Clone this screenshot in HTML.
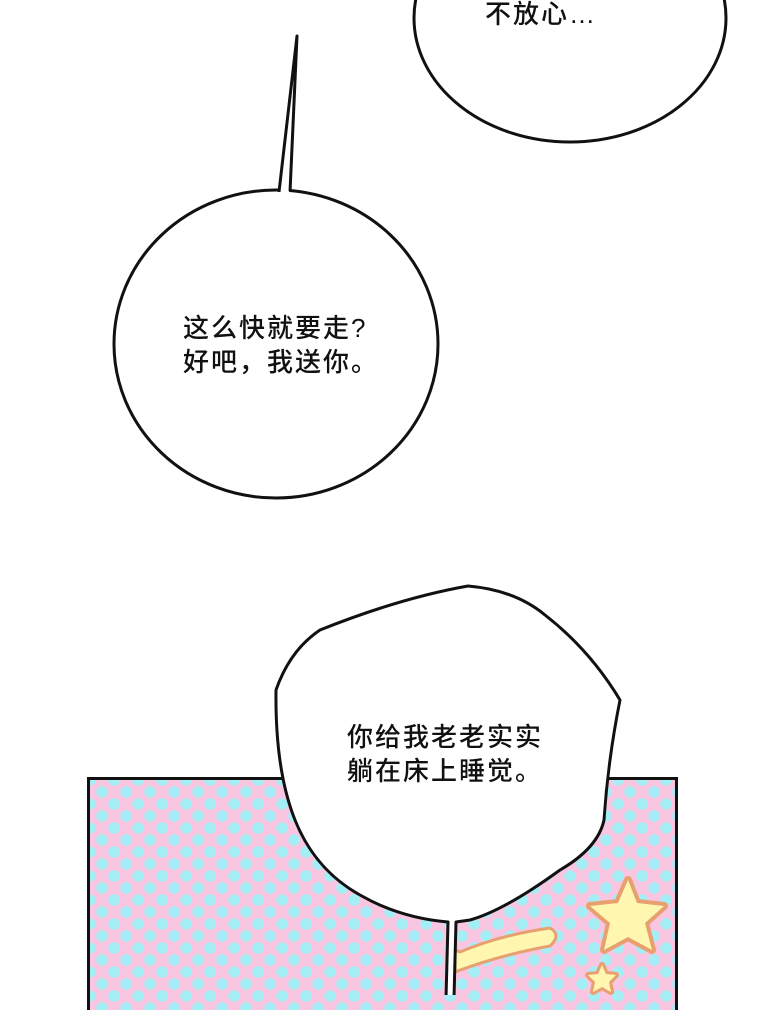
<!DOCTYPE html>
<html><head><meta charset="utf-8"><style>
body{margin:0;width:760px;height:995px;background:#fff;overflow:hidden;position:relative;font-family:"Liberation Sans","Noto Sans CJK SC",sans-serif;}
.panel{position:absolute;left:87px;top:777px;width:585px;height:230px;border:3px solid #111;border-bottom:none;
background-color:#f9c6e2;
background-image:radial-gradient(circle,#a4eef6 5.5px,transparent 6px),radial-gradient(circle,#a4eef6 5.5px,transparent 6px);
background-size:24px 24px;background-position:0 0,12px 12px;}
svg{position:absolute;left:0;top:0}
.t{position:absolute;font-size:26px;color:#111;line-height:34px;letter-spacing:2px;font-weight:500}
</style></head><body>
<div class="panel"></div>
<svg width="760" height="995">
<g stroke="#e8a070" stroke-width="3" fill="#fff7b0" stroke-linejoin="round">
<path d="M628 880 L637 903 L664 906 L645 923 L652 950 L628 937 L604 950 L610 923 L590 906 L618 903Z" stroke-width="8"/>
<path d="M628 880 L637 903 L664 906 L645 923 L652 950 L628 937 L604 950 L610 923 L590 906 L618 903Z" stroke="none"/>
<path d="M602 965 L606 974 L616 975 L609 982 L611 992 L602 987 L593 992 L595 982 L588 975 L598 974Z" stroke-width="6"/>
<path d="M602 965 L606 974 L616 975 L609 982 L611 992 L602 987 L593 992 L595 982 L588 975 L598 974Z" stroke="none"/>
<path d="M455 950 L455 972 Q500 955 550 946 Q562 935 550 928 Q500 935 460 952Z"/>
</g>
<g fill="#fff" stroke="#111" stroke-width="3" stroke-linejoin="round">
<ellipse cx="570" cy="18" rx="156" ry="124"/>
<ellipse cx="276" cy="344" rx="162" ry="154"/>
<path d="M279 192 L297 36 L290 192" />
<path d="M446 998 L448 922 Q400 918 360 895 Q315 870 295 820 Q275 770 276 690 Q290 650 320 630 Q400 598 468 586 Q515 590 545 615 Q590 650 620 700 Q608 760 604 820 Q598 848 560 870 Q505 910 470 920 L456 922 L454 998"/>
</g>
<path d="M281 193 L289 193" stroke="#fff" stroke-width="4"/>
</svg>
<div class="t" style="left:183px;top:311px">这么快就要走?<br>好吧，我送你。</div>
<div class="t" style="left:485px;top:-3px">不放心…</div>
<div class="t" style="left:347px;top:720px">你给我老老实实<br>躺在床上睡觉。</div>
</body></html>
